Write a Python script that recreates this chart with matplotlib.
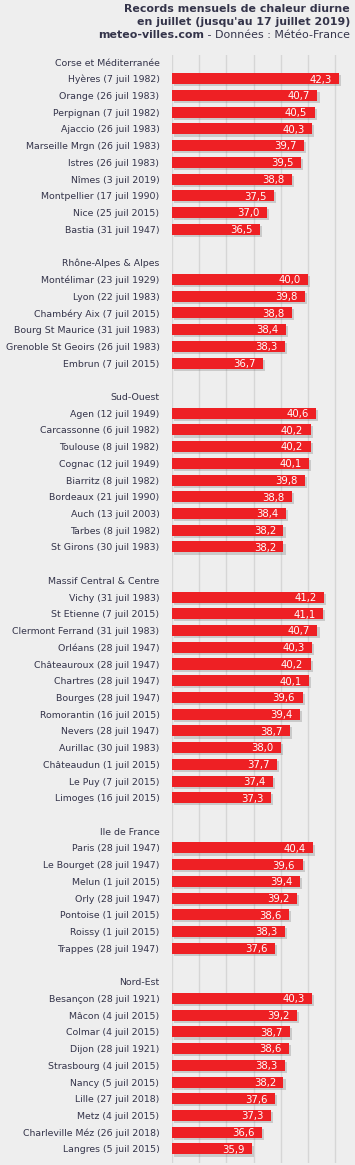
import matplotlib
matplotlib.use("Agg")
import matplotlib.pyplot as plt
import matplotlib.patheffects as pe

# regions
groups = ["Corse et Méditerranée", "Rhône-Alpes & Alpes", "Sud-Ouest",
          "Massif Central & Centre", "Ile de France", "Nord-Est"]

corse_names = ["Hyères (7 juil 1982)", "Orange (26 juil 1983)", "Perpignan (7 juil 1982)",
               "Ajaccio (26 juil 1983)", "Marseille Mrgn (26 juil 1983)", "Istres (26 juil 1983)",
               "Nîmes (3 juil 2019)", "Montpellier (17 juil 1990)", "Nice (25 juil 2015)",
               "Bastia (31 juil 1947)"]
corse_vals = [42.3, 40.7, 40.5, 40.3, 39.7, 39.5, 38.8, 37.5, 37.0, 36.5]

rhone_names = ["Montélimar (23 juil 1929)", "Lyon (22 juil 1983)", "Chambéry Aix (7 juil 2015)",
               "Bourg St Maurice (31 juil 1983)", "Grenoble St Geoirs (26 juil 1983)",
               "Embrun (7 juil 2015)"]
rhone_vals = [40.0, 39.8, 38.8, 38.4, 38.3, 36.7]

so_names = ["Agen (12 juil 1949)", "Carcassonne (6 juil 1982)", "Toulouse (8 juil 1982)",
            "Cognac (12 juil 1949)", "Biarritz (8 juil 1982)", "Bordeaux (21 juil 1990)",
            "Auch (13 juil 2003)", "Tarbes (8 juil 1982)", "St Girons (30 juil 1983)"]
so_vals = [40.6, 40.2, 40.2, 40.1, 39.8, 38.8, 38.4, 38.2, 38.2]

mc_names = ["Vichy (31 juil 1983)", "St Etienne (7 juil 2015)", "Clermont Ferrand (31 juil 1983)",
            "Orléans (28 juil 1947)", "Châteauroux (28 juil 1947)", "Chartres (28 juil 1947)",
            "Bourges (28 juil 1947)", "Romorantin (16 juil 2015)", "Nevers (28 juil 1947)",
            "Aurillac (30 juil 1983)", "Châteaudun (1 juil 2015)", "Le Puy (7 juil 2015)",
            "Limoges (16 juil 2015)"]
mc_vals = [41.2, 41.1, 40.7, 40.3, 40.2, 40.1, 39.6, 39.4, 38.7, 38.0, 37.7, 37.4, 37.3]

idf_names = ["Paris (28 juil 1947)", "Le Bourget (28 juil 1947)", "Melun (1 juil 2015)",
             "Orly (28 juil 1947)", "Pontoise (1 juil 2015)", "Roissy (1 juil 2015)",
             "Trappes (28 juil 1947)"]
idf_vals = [40.4, 39.6, 39.4, 39.2, 38.6, 38.3, 37.6]

ne_names = ["Besançon (28 juil 1921)", "Mâcon (4 juil 2015)", "Colmar (4 juil 2015)",
            "Dijon (28 juil 1921)", "Strasbourg (4 juil 2015)", "Nancy (5 juil 2015)",
            "Lille (27 juil 2018)", "Metz (4 juil 2015)", "Charleville Méz (26 juil 2018)",
            "Langres (5 juil 2015)"]
ne_vals = [40.3, 39.2, 38.7, 38.6, 38.3, 38.2, 37.6, 37.3, 36.6, 35.9]

all_names = [corse_names, rhone_names, so_names, mc_names, idf_names, ne_names]
all_vals = [corse_vals, rhone_vals, so_vals, mc_vals, idf_vals, ne_vals]

bg = '#eeeeee'
txt = '#34344a'
red = '#ee2024'

fig = plt.figure(figsize=(3.55, 11.65), dpi=100, facecolor=bg)
ax = fig.add_axes([172/355, 2/1165, 183/355, 1108/1165])
ax.set_facecolor(bg)

labels = []
pos = 0
for i, g in enumerate(groups):
    labels.append((pos, g))
    pos += 1
    for name, v in zip(all_names[i], all_vals[i]):
        ax.barh(pos, v - 30, left=30, height=0.66, color=red, zorder=3,
                path_effects=[pe.SimplePatchShadow(offset=(1.5, -1.5), shadow_rgbFace='#777777', alpha=0.3),
                              pe.Normal()])
        ax.text(v - 0.55, pos + 0.05, f"{v:.1f}".replace('.', ','), color='white',
                fontsize=7.3, ha='right', va='center', zorder=4)
        labels.append((pos, name))
        pos += 1
    pos += 1

ax.set_yticks([p for p, _ in labels])
ax.set_yticklabels([l for _, l in labels], fontsize=6.75, color=txt)
ax.tick_params(axis='y', length=0, pad=9)
ax.set_xticks([30, 32, 34, 36, 38, 40, 42])
ax.tick_params(axis='x', length=0, labelbottom=False)
ax.grid(axis='x', color='#d6d6d6', linewidth=1, zorder=0)
ax.set_axisbelow(True)
for s in ax.spines.values():
    s.set_visible(False)
ax.set_xlim(30, 43.46)
ax.set_ylim(pos - 1 + 0.84 - 1, -0.42)

fig.text(350/355, 1 - 9/1165, "Records mensuels de chaleur diurne", ha='right', va='center',
         fontsize=7.9, fontweight='bold', color=txt)
fig.text(350/355, 1 - 22/1165, "en juillet (jusqu'au 17 juillet 2019)", ha='right', va='center',
         fontsize=7.9, fontweight='bold', color=txt)
t = fig.text(350/355, 1 - 35/1165, " - Données : Météo-France", ha='right', va='center',
             fontsize=7.9, color=txt)
fig.canvas.draw()
bb = t.get_window_extent()
fig.text(bb.x0 / (355), 1 - 35/1165, "meteo-villes.com", ha='right', va='center',
         fontsize=7.9, fontweight='bold', color=txt)

fig.savefig("out.png", dpi=100, facecolor=bg)
